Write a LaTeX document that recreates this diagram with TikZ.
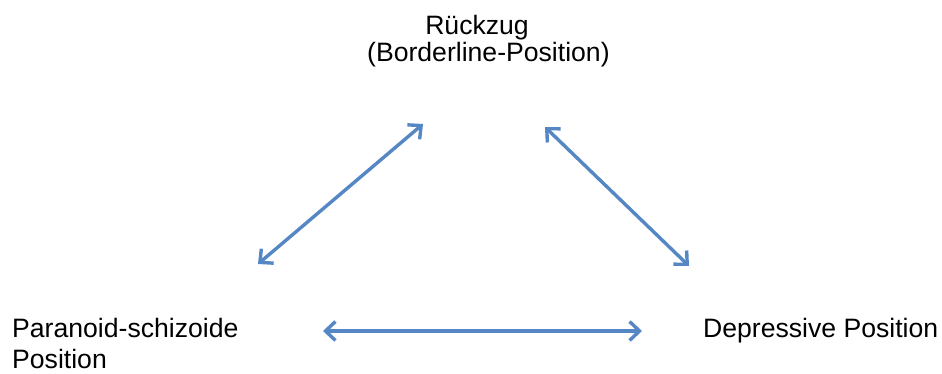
\documentclass[tikz,border=0pt]{standalone}
\usepackage{fontspec}
\setmainfont{Liberation Sans}
\usetikzlibrary{arrows.meta}
\definecolor{linkblue}{RGB}{84,135,196}
\tikzset{
  label/.style={inner sep=0pt, font=\fontsize{26.6}{31}\selectfont, text=black},
  link/.style={draw=linkblue, line width=3.4pt,
    {Straight Barb[length=10pt,width=19pt,line width=3.4pt]}-{Straight Barb[length=10pt,width=19pt,line width=3.4pt]}},
}
\begin{document}
\begin{tikzpicture}[x=1pt,y=-1pt]
  \useasboundingbox (0,0) rectangle (942,374);
  % position labels
  \node[label, anchor=base] (top) at (477,35) {Rückzug};
  \node[label, anchor=base west] (topsub) at (367,62) {(Borderline-Position)};
  \node[label, anchor=base west, align=left] (ps) at (12,368) {Paranoid-schizoide\\Position};
  \node[label, anchor=base west] (dp) at (703,337) {Depressive Position};
  % arrow end points
  \coordinate (tl) at (423,124);
  \coordinate (lt) at (258,264);
  \coordinate (tr) at (545,127);
  \coordinate (rt) at (689,266);
  \coordinate (hl) at (323,331);
  \coordinate (hr) at (642,331);
  % connectors
  \draw[link] (lt) -- (tl);
  \draw[link] (tr) -- (rt);
  \draw[link] (hl) -- (hr);
\end{tikzpicture}
\end{document}
